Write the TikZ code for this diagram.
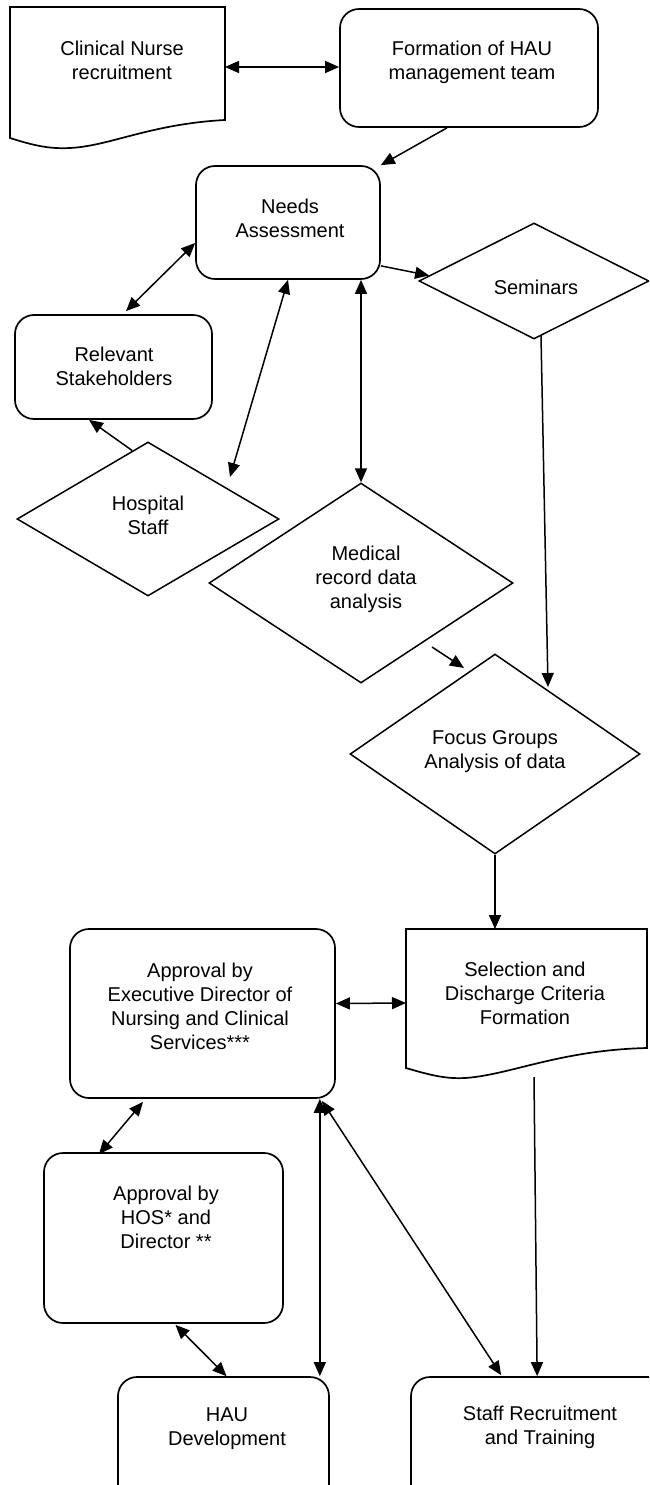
\documentclass[tikz,border=0pt]{standalone}
\usepackage{fontspec}
\setmainfont{Liberation Sans}
\usetikzlibrary{shapes.geometric,arrows.meta,calc}
\begin{document}
\begin{tikzpicture}[x=1pt,y=-1pt,
  rbox/.style={draw,line width=1.7pt,rounded corners=19pt,inner sep=0pt},
  dia/.style={draw,diamond,line width=1.5pt,inner sep=0pt},
  ghost/.style={inner sep=0pt,outer sep=0pt},
  outline/.style={line width=1.7pt},
  txt/.style={font=\fontsize{20}{24}\selectfont,align=center,inner sep=0pt},
  tip/.tip={Triangle[length=14pt,width=12pt]},
  con/.style={line width=1.5pt,-tip},
  dcon/.style={line width=1.5pt,tip-tip}]
\useasboundingbox (0,0) rectangle (649,1485);
\clip (0,0) rectangle (649,1485);

% ---------- shapes ----------
\node[ghost,minimum width=215pt,minimum height=120pt] (cnr) at (117.5,67) {};
\draw[outline] (10,7) -- (225,7) -- (225,120)
  .. controls (150,124) and (110,146) .. (70,148)
  .. controls (50,149) and (35,146) .. (10,138) -- cycle;

\node[rbox,minimum width=258pt,minimum height=118pt] (form) at (469,68) {};
\node[rbox,minimum width=184pt,minimum height=113pt] (needs) at (288,222.5) {};
\node[dia,minimum width=230pt,minimum height=116pt] (sem) at (534,281) {};
\node[rbox,minimum width=197pt,minimum height=104pt] (rel) at (113.5,367) {};
\node[dia,minimum width=262pt,minimum height=154pt] (hosp) at (148,519) {};
\node[dia,minimum width=304pt,minimum height=200pt] (med) at (361,583) {};
\node[dia,minimum width=290pt,minimum height=200pt] (focus) at (495,754) {};

\node[ghost,minimum width=241pt,minimum height=138pt] (sel) at (526.5,998) {};
\draw[outline] (406,929) -- (647,929) -- (647,1048)
  .. controls (560,1050) and (510,1075) .. (465,1078)
  .. controls (445,1079) and (430,1075) .. (406,1068) -- cycle;

\node[rbox,minimum width=265pt,minimum height=169pt] (exec) at (202.5,1013.5) {};
\node[rbox,minimum width=239pt,minimum height=170pt] (hos) at (163.5,1238) {};
\node[rbox,minimum width=211pt,minimum height=140pt] (hau) at (223.5,1447) {};
\node[rbox,minimum width=270pt,minimum height=140pt] (staff) at (546,1447) {};

% ---------- texts ----------
\node[txt] (cnr-t) at (122,60) {Clinical Nurse\\recruitment};
\node[txt] (form-t) at (472,62) {Formation of HAU\\management team};
\node[txt] (needs-t) at (290,218.5) {Needs\\Assessment};
\node[txt] (sem-t) at (536,287) {Seminars};
\node[txt] (rel-t) at (114,366) {Relevant\\Stakeholders};
\node[txt] (hosp-t) at (148,515) {Hospital\\Staff};
\node[txt] (med-t) at (366,579.5) {Medical\\record data\\analysis};
\node[txt] (focus-t) at (495,751.5) {Focus Groups\\Analysis of data};
\node[txt] (sel-t) at (525,993.5) {Selection and\\Discharge Criteria\\Formation};
\node[txt] (exec-t) at (200,1006) {Approval by\\Executive Director of\\Nursing and Clinical\\Services***};
\node[txt] (hos-t) at (166,1217.5) {Approval by\\HOS* and\\Director **};
\node[txt] (hau-t) at (227,1429) {HAU\\Development};
\node[txt] (staff-t) at (540,1427.5) {Staff Recruitment\\and Training};

% ---------- connectors ----------
\coordinate (hv) at ($(hau.north east)+(-10,0)$);
\draw[dcon] (cnr.east) -- (cnr.east -| form.west);
\draw[con] ($(form.south)+(-22,0)$) -- (needs.north east);
\draw[con] ($(needs.south east)+(0,-14)$) -- (sem.177);
\draw[dcon] ($(needs.west)+(0,20.5)$) -- ($(rel.north)+(12.5,-3)$);
\draw[con] (hosp.103) -- ($(rel.south)+(-24.5,0)$);
\draw[dcon] (needs.south) -- ($(hosp.center)+(82,-42)$);
\draw[dcon] (med.north |- needs.south) -- (med.north);
\draw[con] ($(med.center)+(71,64)$) -- ($(focus.center)+(-31,-86)$);
\draw[con] ($(sem.south)+(7,-4)$) -- ($(focus.center)+(53,-67)$);
\draw[con] (focus.south) -- (focus.south |- sel.north);
\draw[dcon] ($(exec.east)+(0,-10)$) -- ($(sel.west)+(0,5)$);
\draw[dcon] ($(exec.south)+(-59.5,3)$) -- ($(hos.north)+(-64.5,2)$);
\draw[dcon] ($(hos.south)+(12,1)$) -- ($(hau.north)+(3,0)$);
\draw[dcon] (hv |- exec.south) -- (hv);
\draw[dcon] ($(exec.south east)+(-14,2)$) -- ($(staff.north west)+(91,-1)$);
\draw[con] ($(sel.south)+(7.5,10)$) -- ($(staff.north west)+(127,0)$);
\end{tikzpicture}
\end{document}
